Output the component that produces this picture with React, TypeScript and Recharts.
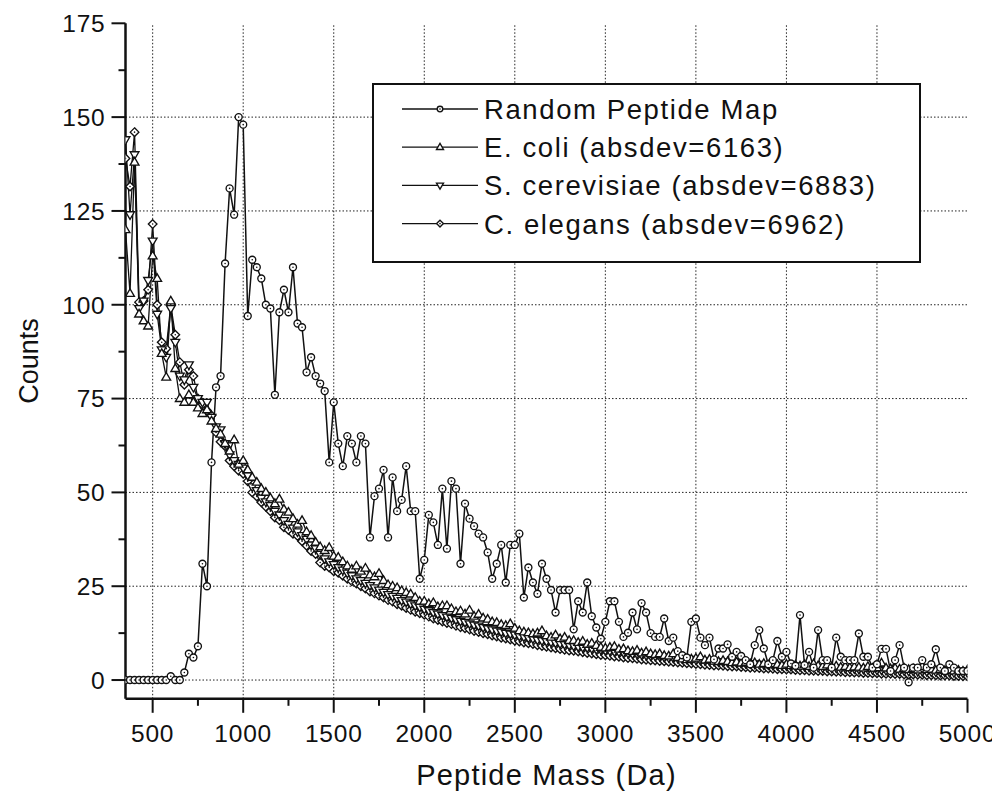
import React from "react";
import { LineChart, Line, XAxis, YAxis, ReferenceLine, Legend } from "recharts";

// Bins: 350 Da to 5000 Da, 25 Da apart
const MASS_START = 350;
const MASS_STEP = 25;

const RANDOM = [
  0, 0, 0, 0, 0, 0, 0, 0,
  0, 0, 1, 0, 0, 2, 7, 6,
  9, 31, 25, 58, 78, 81, 111, 131,
  124, 150, 148, 97, 112, 110, 107, 100,
  99, 76, 98, 104, 98, 110, 95, 94,
  82, 86, 81, 79, 77, 58, 74, 63,
  57, 65, 63, 58, 65, 63, 38, 49,
  51, 56, 38, 54, 45, 48, 57, 45,
  45, 27, 32, 44, 42, 36, 51, 35,
  53, 51, 31, 47, 43, 41, 39, 38,
  34, 27, 31, 36, 26, 36, 36, 39,
  22, 30, 26, 23, 31, 27, 24, 18,
  24, 24, 24, 13.5, 21, 18, 26, 17,
  14, 11, 15.5, 21, 21, 15.5, 11.5, 12.6,
  18, 13.5, 20.5, 18, 12.5, 11.5, 11.5, 16.4,
  10.4, 11.3, 7.7, 6.6, 6, 15.5, 16.4, 11.3,
  9.3, 11.3, 5.5, 8.4, 8.4, 9.5, 6.2, 7.5,
  6.4, 5.3, 4.2, 9.3, 13.3, 8.4, 4.2, 5.3,
  10.4, 6.2, 7.5, 4.4, 3.8, 17.3, 4, 7.5,
  3.3, 13.3, 5.3, 5.3, 3.3, 11.3, 6.2, 5.3,
  5.3, 5.3, 12.4, 6.2, 6.2, 3.3, 4.2, 8.3,
  8.3, 2.4, 5.3, 9.3, 3.3, -0.6, 3.3, 3.3,
  5.3, 3.3, 4.2, 8.2, 3.3, 2.4, 4.2, 3.3,
  2.4, 2.4, 2.4,
];

const ECOLI = [
  120, 103, 138, 97.5, 95.7, 94.3, 113, 107,
  87, 80.7, 101, 83, 75, 74, 76, 74,
  72.5, 71, 72, 69, 67, 65.5, 63, 61,
  64, 57.5, 58.5, 56, 54, 52.7, 51, 50,
  48.5, 47, 48.2, 45.5, 44.7, 43, 41.5, 42.5,
  39.5, 38.5, 36.7, 35.5, 34.5, 35.3, 33, 32.7,
  31.5, 30.4, 29.5, 30.4, 29, 29.8, 28, 27.5,
  28.4, 26.5, 25.4, 25, 24.6, 23.8, 23.3, 22.9,
  22, 21, 21, 20.3, 20.6, 19.5, 19.8, 19.8,
  19, 18.2, 18.4, 17.6, 18.6, 17, 17.5, 16.5,
  16.2, 15.5, 15.3, 14.8, 14.5, 15, 13.8, 13.1,
  12.8, 12.6, 12.3, 12.5, 13.1, 11.8, 11.4, 12,
  11, 11.4, 10.5, 10.5, 10, 10.3, 9.5, 9.8,
  9.2, 8.7, 8.5, 8.7, 8.9, 8.2, 8.3, 7.8,
  7.6, 7.9, 7.2, 7.5, 7.0, 6.8, 7, 6.5,
  6.4, 7, 6.0, 5.6, 5.4, 5.6, 5.8, 6.2,
  5.3, 5.5, 5.0, 4.9, 5.2, 4.9, 4.6, 4.8,
  4.5, 4.7, 4.3, 4.6, 4.2, 4.4, 4.0, 4.3,
  4.1, 3.9, 4.2, 3.8, 4.0, 3.7, 4.1, 3.6,
  4.3, 3.8, 3.6, 4.0, 3.5, 3.7, 3.4, 3.6,
  3.3, 3.5, 3.4, 3.2, 3.6, 3.1, 3.3, 4.5,
  3.2, 3.0, 3.2, 2.9, 3.1, 2.8, 3.0, 2.7,
  3.6, 2.8, 2.9, 2.6, 2.8, 2.5, 2.7, 2.4,
  2.6, 2.3, 2.7,
];

const SCER = [
  144, 124, 140, 99, 101, 106.5, 117, 97.5,
  88, 86, 99, 90, 81, 80, 84, 78,
  75, 74, 74, 70, 67.5, 66.7, 63, 60,
  58.5, 57.5, 56.5, 54.5, 51.5, 50.5, 48.5, 47.5,
  46.5, 45, 44, 42.5, 41.5, 40.5, 39.5, 38.5,
  37.5, 36, 35, 33.5, 32.3, 31.5, 30.8, 30,
  29.3, 28.5, 27.8, 27, 26.5, 25.8, 25.2, 24.6,
  24, 23.4, 22.8, 22.3, 21.8, 21.2, 20.8, 20.3,
  19.8, 19.4, 18.9, 18.5, 18, 17.6, 17.2, 16.8,
  16.5, 16.1, 15.7, 15.4, 15, 14.7, 14.4, 14,
  13.7, 13.4, 13.1, 12.8, 12.5, 12.3, 12, 11.7,
  11.5, 11.2, 11, 10.7, 10.5, 10.3, 10.1, 9.9,
  9.7, 9.5, 9.3, 9.1, 8.9, 8.7, 8.6, 8.4,
  8.2, 8.1, 7.9, 7.8, 7.6, 7.5, 7.3, 7.2,
  7.0, 6.9, 6.8, 6.6, 6.5, 6.4, 6.3, 6.1,
  6.0, 5.9, 5.8, 5.7, 5.6, 5.5, 5.4, 5.3,
  5.2, 5.1, 5.0, 4.9, 4.8, 4.8, 4.7, 4.6,
  4.5, 4.4, 4.4, 4.3, 4.2, 4.1, 4.1, 4.0,
  3.9, 3.9, 3.8, 3.7, 3.7, 3.6, 3.6, 3.5,
  3.4, 3.4, 3.3, 3.3, 3.2, 3.2, 3.1, 3.1,
  3.0, 3.0, 2.9, 2.9, 2.8, 2.8, 2.7, 2.7,
  2.6, 2.6, 2.6, 2.5, 2.5, 2.4, 2.4, 2.3,
  2.3, 2.3, 2.2, 2.2, 2.1, 2.1, 2.1, 2.0,
  2.0, 1.9, 1.9,
];

const CELE = [
  139, 131.5, 146, 100.7, 101, 104, 121.5, 100,
  90, 88.3, 100, 92, 84.7, 78.7, 82.7, 81,
  75, 73.4, 71.8, 70.5, 66, 63.5, 62.3, 58.5,
  57, 55.8, 55, 53, 50, 48.9, 47.4, 46.2,
  45, 43.3, 42.6, 40.7, 40, 39, 38.4, 37,
  35.8, 34.4, 33.6, 31.3, 30.4, 30, 29, 28.6,
  27.8, 27, 26.3, 25.7, 25, 24.4, 23.6, 23.1,
  22.5, 22, 21.3, 20.9, 20.2, 19.8, 19.2, 18.7,
  18.2, 17.8, 17.4, 16.9, 16.4, 16, 15.6, 15.2,
  14.9, 14.5, 14.1, 13.8, 13.5, 13.1, 12.8, 12.5,
  12.2, 11.9, 11.6, 11.3, 11.1, 10.8, 10.5, 10.3,
  10, 9.8, 9.6, 9.3, 9.1, 8.9, 8.7, 8.5,
  8.3, 8.1, 7.9, 7.8, 7.6, 7.4, 7.2, 7.1,
  6.9, 6.7, 6.6, 6.5, 6.3, 6.2, 6.0, 5.9,
  5.8, 5.7, 5.5, 5.4, 5.3, 5.2, 5.1, 5.0,
  4.9, 4.8, 4.7, 4.6, 4.5, 4.4, 4.3, 4.2,
  4.1, 4.0, 3.9, 3.9, 3.8, 3.7, 3.6, 3.6,
  3.5, 3.4, 3.3, 3.3, 3.2, 3.1, 3.1, 3.0,
  2.9, 2.9, 2.8, 2.8, 2.7, 2.6, 2.6, 2.5,
  2.5, 2.4, 2.4, 2.3, 2.3, 2.2, 2.2, 2.1,
  2.1, 2.0, 2.0, 1.9, 1.9, 1.8, 1.8, 1.7,
  1.7, 1.7, 1.6, 1.6, 1.5, 1.5, 1.5, 1.4,
  1.4, 1.3, 1.3, 1.3, 1.2, 1.2, 1.2, 1.1,
  1.1, 1.0, 1.0,
];

const X_MAJOR = [500, 1000, 1500, 2000, 2500, 3000, 3500, 4000, 4500, 5000];
const X_MINOR = [750, 1250, 1750, 2250, 2750, 3250, 3750, 4250, 4750];
const Y_MAJOR = [0, 25, 50, 75, 100, 125, 150, 175];
const Y_MINOR = [12.5, 37.5, 62.5, 87.5, 112.5, 137.5, 162.5];
const X_GRID = [500, 1000, 1500, 2000, 2500, 3000, 3500, 4000, 4500];
const Y_GRID = [0, 25, 50, 75, 100, 125, 150];

const LEGEND_LABELS = [
  "Random Peptide Map",
  "E. coli (absdev=6163)",
  "S. cerevisiae (absdev=6883)",
  "C. elegans (absdev=6962)",
];

const X_TICKS = [...X_MAJOR, ...X_MINOR].sort((a, b) => a - b);
const Y_TICKS = [...Y_MAJOR, ...Y_MINOR].sort((a, b) => a - b);

const data = RANDOM.map((r, i) => ({
  mass: MASS_START + MASS_STEP * i,
  random: r,
  ecoli: ECOLI[i],
  scer: SCER[i],
  cele: CELE[i],
}));

const FONT = "'Liberation Sans', Arial, Helvetica, sans-serif";
const INK = "#111";

type MarkerKind = "circle" | "up" | "down" | "diamond";

function Marker({ kind, cx, cy, s = 1 }: { kind: MarkerKind; cx: number; cy: number; s?: number }) {
  const sw = 1.35;
  if (kind === "circle") {
    return (
      <g>
        <circle cx={cx} cy={cy} r={3.5 * s} fill="#fff" stroke={INK} strokeWidth={sw} />
        <circle cx={cx} cy={cy} r={0.8} fill={INK} />
      </g>
    );
  }
  if (kind === "up") {
    const pts = `${cx},${cy - 4.7 * s} ${cx - 4.4 * s},${cy + 2.9 * s} ${cx + 4.4 * s},${cy + 2.9 * s}`;
    return <polygon points={pts} fill="#fff" stroke={INK} strokeWidth={sw} />;
  }
  if (kind === "down") {
    const pts = `${cx},${cy + 4.7 * s} ${cx - 4.4 * s},${cy - 2.9 * s} ${cx + 4.4 * s},${cy - 2.9 * s}`;
    return <polygon points={pts} fill="#fff" stroke={INK} strokeWidth={sw} />;
  }
  const d = 4.3 * s;
  const pts = `${cx},${cy - d} ${cx + d},${cy} ${cx},${cy + d} ${cx - d},${cy}`;
  return (
    <g>
      <polygon points={pts} fill="#fff" stroke={INK} strokeWidth={sw} />
      <circle cx={cx} cy={cy} r={0.8} fill={INK} />
    </g>
  );
}

const makeDot = (kind: MarkerKind) => (p: any) => {
  const { cx, cy, index } = p;
  if (cx == null || cy == null || isNaN(cx) || isNaN(cy)) return <g key={`${kind}-${index}`} />;
  return (
    <g key={`${kind}-${index}`}>
      <Marker kind={kind} cx={cx} cy={cy} />
    </g>
  );
};

const BottomTick = (p: any) => {
  const { x, y, payload } = p;
  const v = payload.value;
  const major = X_MAJOR.includes(v);
  return (
    <g>
      <line x1={x} y1={y} x2={x} y2={y + (major ? 14 : 7)} stroke={INK} strokeWidth={2} />
      {major && (
        <text x={x} y={y + 43} textAnchor="middle" fontFamily={FONT} fontSize={24.5} letterSpacing={0.8} fill={INK}>
          {v}
        </text>
      )}
    </g>
  );
};

const TopTick = (p: any) => {
  const { x, y, payload } = p;
  const major = X_MAJOR.includes(payload.value);
  return <line x1={x} y1={y} x2={x} y2={y + (major ? 13 : 7)} stroke={INK} strokeWidth={2} />;
};

const LeftTick = (p: any) => {
  const { x, y, payload } = p;
  const v = payload.value;
  const major = Y_MAJOR.includes(v);
  return (
    <g>
      <line x1={x} y1={y} x2={x - (major ? 14 : 7)} y2={y} stroke={INK} strokeWidth={2} />
      {major && (
        <text x={x - 20} y={y} dy="0.36em" textAnchor="end" fontFamily={FONT} fontSize={24.5} letterSpacing={0.8} fill={INK}>
          {v}
        </text>
      )}
    </g>
  );
};

const RightTick = (p: any) => {
  const { x, y, payload } = p;
  const major = Y_MAJOR.includes(payload.value);
  return <line x1={x} y1={y} x2={x - (major ? 13 : 7)} y2={y} stroke={INK} strokeWidth={2} />;
};

const XTitle = (p: any) => {
  const vb = p.viewBox || {};
  return (
    <text
      x={vb.x + vb.width / 2}
      y={vb.y + 86}
      textAnchor="middle"
      fontFamily={FONT}
      fontSize={29}
      letterSpacing={1.2}
      fill={INK}
    >
      Peptide Mass (Da)
    </text>
  );
};

const YTitle = (p: any) => {
  const vb = p.viewBox || {};
  const cx = vb.x - 7;
  const cy = vb.y + vb.height / 2;
  return (
    <text
      x={cx}
      y={cy}
      dy="0.36em"
      transform={`rotate(-90 ${cx} ${cy})`}
      textAnchor="middle"
      fontFamily={FONT}
      fontSize={27}
      fill={INK}
    >
      Counts
    </text>
  );
};

const KINDS: MarkerKind[] = ["circle", "up", "down", "diamond"];

const LegendBox = () => (
  <div style={{ width: 549, height: 180, boxSizing: "border-box", border: `2px solid ${INK}`, background: "#fff" }}>
    <svg width={545} height={176} style={{ display: "block" }}>
      {LEGEND_LABELS.map((lab, i) => {
        const cy = 24 + i * 38.2;
        return (
          <g key={lab}>
            <line x1={28} y1={cy} x2={104} y2={cy} stroke={INK} strokeWidth={1.3} />
            <Marker kind={KINDS[i]} cx={66} cy={cy} s={0.8} />
            <text x={110} y={cy} dy="0.36em" fontFamily={FONT} fontSize={27.5} letterSpacing={1.6} fill={INK}>
              {lab}
            </text>
          </g>
        );
      })}
    </svg>
  </div>
);

export default function App() {
  const W = 984;
  const H = 784;
  return (
    <div style={{ width: W, height: H, position: "relative", background: "#fff" }}>
      <style>{`.recharts-surface{overflow:visible}`}</style>
      <LineChart
        width={W}
        height={H}
        data={data}
        margin={{ top: 15.3, right: 24.5, bottom: 13.2, left: 27.5 }}
      >
        <XAxis
          xAxisId="b"
          dataKey="mass"
          type="number"
          domain={[350, 5000]}
          allowDataOverflow
          ticks={X_TICKS}
          interval={0}
          tickSize={0}
          tickMargin={0}
          tickLine={false}
          tick={<BottomTick />}
          height={80}
          axisLine={{ stroke: INK, strokeWidth: 2.5 }}
          label={<XTitle />}
        />
        <XAxis
          xAxisId="t"
          orientation="top"
          dataKey="mass"
          type="number"
          domain={[350, 5000]}
          allowDataOverflow
          ticks={X_TICKS}
          interval={0}
          tickSize={0}
          tickMargin={0}
          tickLine={false}
          tick={<TopTick />}
          height={0}
          axisLine={{ stroke: INK, strokeWidth: 2.5 }}
        />
        <YAxis
          yAxisId="l"
          type="number"
          domain={[-5, 175]}
          allowDataOverflow
          ticks={Y_TICKS}
          interval={0}
          tickSize={0}
          tickMargin={0}
          tickLine={false}
          tick={<LeftTick />}
          width={90}
          axisLine={{ stroke: INK, strokeWidth: 2.5 }}
          label={<YTitle />}
        />
        <YAxis
          yAxisId="r"
          orientation="right"
          type="number"
          domain={[-5, 175]}
          allowDataOverflow
          ticks={Y_TICKS}
          interval={0}
          tickSize={0}
          tickMargin={0}
          tickLine={false}
          tick={<RightTick />}
          width={0}
          axisLine={{ stroke: INK, strokeWidth: 2.5 }}
        />
        {X_GRID.map((v) => (
          <ReferenceLine
            key={`gx${v}`}
            x={v}
            xAxisId="b"
            yAxisId="l"
            stroke="#222"
            strokeWidth={1}
            strokeDasharray="1.5 2"
          />
        ))}
        {Y_GRID.map((v) => (
          <ReferenceLine
            key={`gy${v}`}
            y={v}
            xAxisId="b"
            yAxisId="l"
            stroke="#222"
            strokeWidth={1}
            strokeDasharray="1.5 2"
          />
        ))}
        <Line xAxisId="b" yAxisId="l" type="linear" dataKey="cele" stroke={INK} strokeWidth={1.3} dot={makeDot("diamond")} activeDot={false} isAnimationActive={false} />
        <Line xAxisId="b" yAxisId="l" type="linear" dataKey="scer" stroke={INK} strokeWidth={1.3} dot={makeDot("down")} activeDot={false} isAnimationActive={false} />
        <Line xAxisId="b" yAxisId="l" type="linear" dataKey="ecoli" stroke={INK} strokeWidth={1.3} dot={makeDot("up")} activeDot={false} isAnimationActive={false} />
        <Line xAxisId="b" yAxisId="l" type="linear" dataKey="random" stroke={INK} strokeWidth={1.5} dot={makeDot("circle")} activeDot={false} isAnimationActive={false} />
        <Legend
          layout="vertical"
          align="center"
          verticalAlign="middle"
          wrapperStyle={{ position: "absolute", left: 364, top: 74.7, width: 549, height: 180 }}
          content={() => <LegendBox />}
        />
      </LineChart>
    </div>
  );
}
